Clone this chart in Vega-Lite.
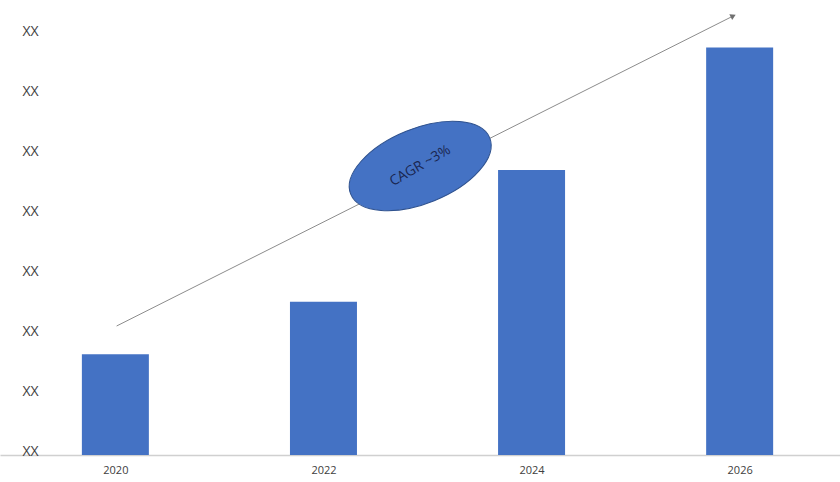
{
  "$schema": "https://vega.github.io/schema/vega-lite/v6.json",
  "width": 840,
  "height": 420,
  "autosize": "none",
  "padding": {"left": 0, "right": 0, "top": 35, "bottom": 27},
  "background": "white",
  "config": {"view": {"stroke": null}, "font": "Open Sans"},
  "datasets": {
    "bars": [
      {"year": 2020, "value": 1.68},
      {"year": 2022, "value": 2.555},
      {"year": 2024, "value": 4.75},
      {"year": 2026, "value": 6.79}
    ],
    "arrow": [
      {"year": 2020.012, "value": 2.15},
      {"year": 2025.938, "value": 7.317}
    ],
    "head": [
      {"year": 2025.938, "value": 7.317}
    ],
    "cagr": [
      {"year": 2022.93, "value": 4.817, "label": "CAGR ~3%"}
    ]
  },
  "layer": [
    {
      "data": {"name": "bars"},
      "mark": {"type": "bar", "size": 67, "color": "#4472C4"},
      "encoding": {
        "x": {
          "field": "year", "type": "quantitative",
          "scale": {"domain": [2018.9392, 2026.9164], "nice": false, "zero": false},
          "axis": {
            "title": null, "values": [2020, 2022, 2024, 2026], "format": "d",
            "grid": false, "ticks": false, "tickSize": 0, "labelPadding": 9,
            "domainColor": "#d0d0d0", "domainWidth": 1.5,
            "labelColor": "#404040", "labelFontSize": 11, "labelFlush": false
          }
        },
        "y": {
          "field": "value", "type": "quantitative",
          "scale": {"domain": [0, 7], "nice": false},
          "axis": {
            "title": null, "values": [0, 1, 2, 3, 4, 5, 6, 7],
            "labelExpr": "'XX'", "grid": false, "ticks": false, "tickSize": 0,
            "domain": false, "labelAlign": "left", "labelPadding": -22,
            "labelOffset": -4, "labelColor": "#404040", "labelFontSize": 14
          }
        }
      }
    },
    {
      "data": {"name": "arrow"},
      "mark": {"type": "line", "color": "#8c8c8c", "strokeWidth": 1},
      "encoding": {
        "x": {"field": "year", "type": "quantitative"},
        "y": {"field": "value", "type": "quantitative"}
      }
    },
    {
      "data": {"name": "head"},
      "mark": {"type": "point", "shape": "triangle-right", "filled": true, "color": "#707070", "size": 40, "angle": -26.4, "opacity": 1},
      "encoding": {
        "x": {"field": "year", "type": "quantitative"},
        "y": {"field": "value", "type": "quantitative"}
      }
    },
    {
      "data": {"name": "cagr"},
      "mark": {"type": "point", "shape": "M -1 0 A 1 0.5 0 1 1 1 0 A 1 0.5 0 1 1 -1 0 Z", "filled": true, "fill": "#4472C4", "stroke": "#2F528F", "strokeWidth": 1, "size": 22500, "angle": -22, "opacity": 1},
      "encoding": {
        "x": {"field": "year", "type": "quantitative"},
        "y": {"field": "value", "type": "quantitative"}
      }
    },
    {
      "data": {"name": "cagr"},
      "mark": {"type": "text", "angle": -30, "fontSize": 14, "color": "#1a2650", "align": "center", "baseline": "middle"},
      "encoding": {
        "x": {"field": "year", "type": "quantitative"},
        "y": {"field": "value", "type": "quantitative"},
        "text": {"field": "label"}
      }
    }
  ]
}
